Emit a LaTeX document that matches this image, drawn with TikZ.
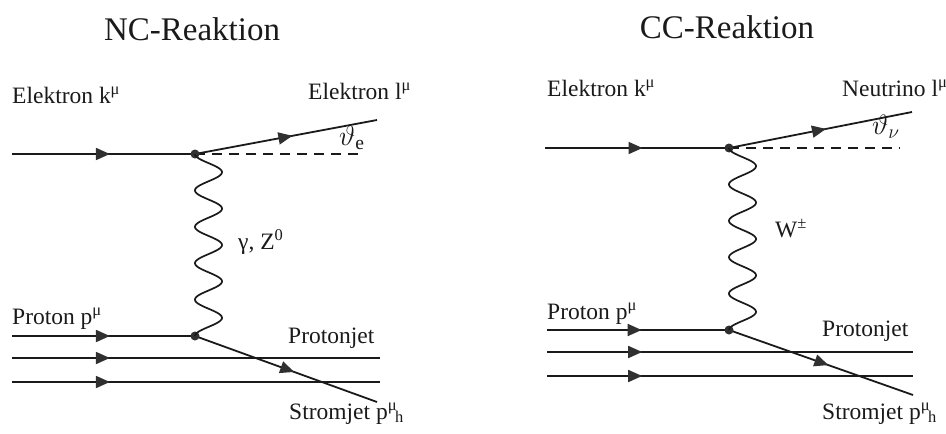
\RequirePackage{fix-cm}
\documentclass[tikz,border=0pt]{standalone}
\usepackage{fontspec}
\setmainfont{Liberation Serif}
\usetikzlibrary{arrows.meta,decorations.markings,calc}
\definecolor{ink}{HTML}{1A1A1A}
\definecolor{tipc}{HTML}{303030}
\begin{document}
\begin{tikzpicture}[x=1pt,y=-1pt,
  ln/.style={draw=ink, line width=1.8pt},
  tipat/.style={postaction={decorate, decoration={markings,
     mark=at position #1 with {\arrow[tipc]{Triangle[length=14pt,width=12pt]}}}}},
  vtx/.style={circle, fill=tipc, inner sep=0pt, minimum size=9pt},
  dsh/.style={draw=ink, line width=1.5pt, dash pattern=on 10pt off 7pt},
  lbl/.style={anchor=base west, inner sep=0pt, text=ink, font=\fontsize{23.5}{27}\selectfont},
  th/.style={anchor=base west, inner sep=0pt, text=ink, font=\fontsize{28}{32}\selectfont},
  ttl/.style={anchor=base, inner sep=0pt, text=ink, font=\fontsize{33}{38}\selectfont},
  boson/.style={draw=ink, line width=1.7pt}
]
\useasboundingbox (0,0) rectangle (946,434);

% ---------------- NC ----------------
\node[ttl] (t1) at (192,40) {NC-Reaktion};

\coordinate (a0) at (12,154);
\coordinate (a1) at (377,120);
\coordinate (a2) at (363,154);
\coordinate (b0) at (12,336);
\coordinate (b1) at (377,402);
\coordinate (c0) at (12,358);
\coordinate (c1) at (380,358);
\coordinate (d0) at (12,382);
\coordinate (d1) at (380,382);

\draw[dsh] (195,154) -- (a2);
\draw[ln, tipat=0.535] (a0) -- (195,154) coordinate (v1p);
\draw[ln, tipat=0.535] (v1p) -- (a1);
\draw[ln, tipat=0.535] (b0) -- (195,336) coordinate (v2p);
\draw[ln, tipat=0.545] (v2p) -- (b1);
\draw[ln, tipat=0.266] (c0) -- (c1);
\draw[ln, tipat=0.266] (d0) -- (d1);
\node[vtx] (v1) at (v1p) {};
\node[vtx] (v2) at (v2p) {};
\draw[boson] let \p1=(v1.center), \p2=(v2.center) in
  plot[domain=0:1, samples=260, variable=\t]
  ({\x1+13.5*(1-cos(1800*\t))}, {\y1+(\y2-\y1)*\t});

\node[lbl] (l1) at (12,103) {Elektron k\textsuperscript{μ}};
\node[lbl] (l2) at (308,99) {Elektron l\textsuperscript{μ}};
\node[th] (l3) at (339,145) {$\vartheta_{\mathrm{e}}$};
\node[lbl] (l4) at (238,249) {γ, Z\textsuperscript{0}};
\node[lbl] (l5) at (12,324) {Proton p\textsuperscript{μ}};
\node[lbl] (l6) at (288,343) {Protonjet};
\node[lbl] (l7) at (289,419) {Stromjet p\textsuperscript{μ}\kern-2pt\textsubscript{h}};

% ---------------- CC ----------------
\node[ttl] (t2) at (727,38) {CC-Reaktion};

\coordinate (e0) at (545,148);
\coordinate (e1) at (912,112);
\coordinate (e2) at (900,148);
\coordinate (f0) at (547,330);
\coordinate (f1) at (913,395);
\coordinate (g0) at (547,352);
\coordinate (g1) at (913,352);
\coordinate (h0) at (547,376);
\coordinate (h1) at (913,376);

\draw[dsh] (729,148) -- (e2);
\draw[ln, tipat=0.53] (e0) -- (729,148) coordinate (v3p);
\draw[ln, tipat=0.53] (v3p) -- (e1);
\draw[ln, tipat=0.52] (f0) -- (729,330) coordinate (v4p);
\draw[ln, tipat=0.54] (v4p) -- (f1);
\draw[ln, tipat=0.26] (g0) -- (g1);
\draw[ln, tipat=0.26] (h0) -- (h1);
\node[vtx] (v3) at (v3p) {};
\node[vtx] (v4) at (v4p) {};
\draw[boson] let \p1=(v3.center), \p2=(v4.center) in
  plot[domain=0:1, samples=260, variable=\t]
  ({\x1+13.5*(1-cos(1800*\t))}, {\y1+(\y2-\y1)*\t});

\node[lbl] (r1) at (547,96) {Elektron k\textsuperscript{μ}};
\node[lbl] (r2) at (842,96) {Neutrino l\textsuperscript{μ}};
\node[th] (r3) at (872,134) {$\vartheta_{\nu}$};
\node[lbl] (r4) at (775,237) {W\textsuperscript{±}};
\node[lbl] (r5) at (547,319) {Proton p\textsuperscript{μ}};
\node[lbl] (r6) at (822,336) {Protonjet};
\node[lbl] (r7) at (822,419) {Stromjet p\textsuperscript{μ}\kern-2pt\textsubscript{h}};
\end{tikzpicture}
\end{document}
